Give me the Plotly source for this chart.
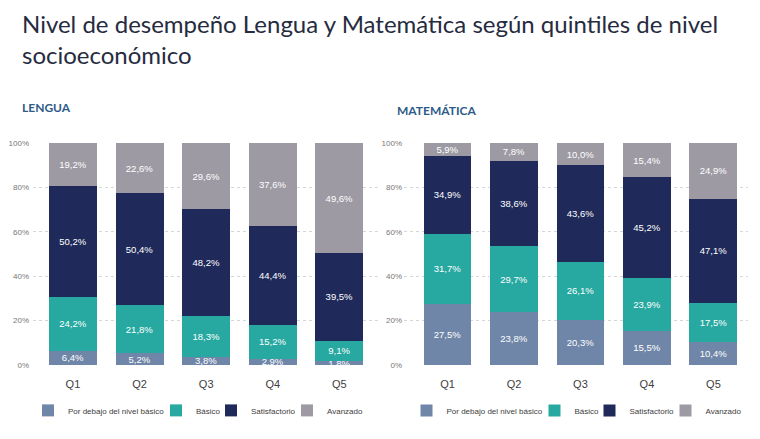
import plotly.graph_objects as go
from plotly.subplots import make_subplots

# quintiles and performance levels
quintiles = ['Q1', 'Q2', 'Q3', 'Q4', 'Q5']
levels = ['Por debajo del nivel básico', 'Básico', 'Satisfactorio', 'Avanzado']
colors = ['#6F86A8', '#27A9A1', '#1F2A5A', '#9D9AA4']
y_ticks = [0, 20, 40, 60, 80, 100]
y_ticklabels = ['0%', '20%', '40%', '60%', '80%', '100%']

# Lengua (% per level)
lengua_debajo = [6.4, 5.2, 3.8, 2.9, 1.8]
lengua_basico = [24.2, 21.8, 18.3, 15.2, 9.1]
lengua_satisf = [50.2, 50.4, 48.2, 44.4, 39.5]
lengua_avanz = [19.2, 22.6, 29.6, 37.6, 49.6]

# Matemática (% per level)
mate_debajo = [27.5, 23.8, 20.3, 15.5, 10.4]
mate_basico = [31.7, 29.7, 26.1, 23.9, 17.5]
mate_satisf = [34.9, 38.6, 43.6, 45.2, 47.1]
mate_avanz = [5.9, 7.8, 10.0, 15.4, 24.9]

lengua = [lengua_debajo, lengua_basico, lengua_satisf, lengua_avanz]
mate = [mate_debajo, mate_basico, mate_satisf, mate_avanz]

# width of each legend entry (packs the horizontal legend tighter)
legend_widths = [83, 10, 31, 45]

W, H = 760, 439
# the page puts the figure 8px in from the top-left corner; work in screen px
OFF = 8


def px(x):
    return (x - OFF) / W


def py(y):
    return 1 - (y - OFF) / H


fig = make_subplots(rows=1, cols=2)

for col, series, leg in [(1, lengua, 'legend'), (2, mate, 'legend2')]:
    for name, vals, c, lw in zip(levels, series, colors, legend_widths):
        fig.add_trace(go.Bar(
            x=quintiles, y=vals, name=name, marker=dict(color=c, line=dict(width=0)),
            texttemplate='%{y:.1f}%', textposition='inside', insidetextanchor='middle',
            constraintext='none',
            textfont=dict(family='Liberation Sans', size=9.5, color='white'),
            legend=leg, legendwidth=lw, hoverinfo='skip'), row=1, col=col)

legend_font = dict(family='Liberation Sans', size=8, color='#404040')

fig.update_layout(
    barmode='stack', bargap=0.28,
    width=W, height=H,
    margin=dict(l=0, r=0, t=0, b=0, autoexpand=False),
    paper_bgcolor='white', plot_bgcolor='white',
    separators=',.',
    font=dict(family='Liberation Sans', color='#555555'),
    legend=dict(orientation='h', x=px(28), y=py(410.4), xanchor='left', yanchor='middle',
                font=legend_font, itemwidth=30, tracegroupgap=0, traceorder='normal'),
    legend2=dict(orientation='h', x=px(406.5), y=py(410.4), xanchor='left', yanchor='middle',
                 font=legend_font, itemwidth=30, tracegroupgap=0, traceorder='normal'),
    showlegend=True,
)

axis_y = dict(range=[0, 100], tickmode='array', tickvals=y_ticks, ticktext=y_ticklabels,
              showgrid=True, gridcolor='#D6D6D6', griddash='dot', gridwidth=1,
              zeroline=False, showline=False, ticks='',
              tickfont=dict(family='Liberation Sans', size=8, color='#777777'),
              domain=[py(365), py(143)])
axis_x = dict(showgrid=False, showline=False, ticks='', ticklabelstandoff=11,
              tickfont=dict(family='Liberation Sans', size=11, color='#404040'))

fig.update_xaxes(axis_x)
fig.update_yaxes(axis_y)
fig.update_xaxes(domain=[px(33), px(378)], range=[-0.6, 4.58], row=1, col=1)
fig.update_xaxes(domain=[px(404), px(748)], range=[-0.654, 4.52], row=1, col=2)
fig.update_yaxes(ticklabelstandoff=3, row=1, col=1)
fig.update_yaxes(ticklabelstandoff=1, row=1, col=2)

# main title and panel titles
fig.add_annotation(text='Nivel de desempeño Lengua y Matemática según quintiles de nivel<br>socioeconómico',
                   x=px(21), y=py(8), xref='paper', yref='paper', borderpad=0,
                   xanchor='left', yanchor='top', align='left', showarrow=False,
                   font=dict(family='Lato', size=24, color='#262B40'))
fig.add_annotation(text='<b>LENGUA</b>', x=px(20), y=py(107.5), xref='paper', yref='paper',
                   xanchor='left', yanchor='middle', showarrow=False,
                   font=dict(family='Lato', size=12, color='#2E5B88'))
fig.add_annotation(text='<b>MATEMÁTICA</b>', x=px(395), y=py(110), xref='paper', yref='paper',
                   xanchor='left', yanchor='middle', showarrow=False,
                   font=dict(family='Lato', size=12, color='#2E5B88'))

fig.write_html('out.html')
